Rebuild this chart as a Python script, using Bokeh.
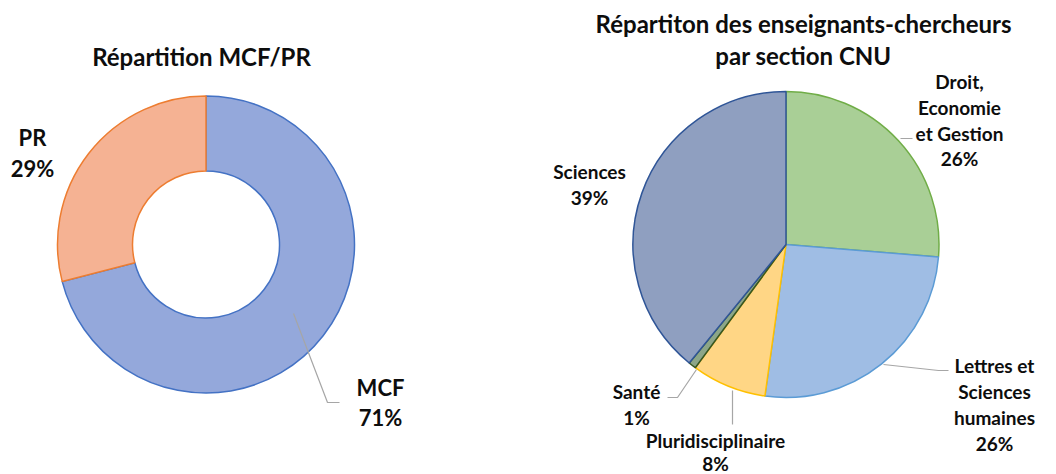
import math
from bokeh.plotting import figure
from bokeh.models import Range1d, ColumnDataSource
from bokeh.core.properties import value
from bokeh.embed import file_html
from bokeh.resources import INLINE

# ---------------- data ----------------
statut = ["MCF", "PR"]
statut_pct = [71, 29]

sections = ["Droit,\nEconomie\net Gestion", "Lettres et\nSciences\nhumaines",
            "Pluridisciplinaire", "Santé", "Sciences"]
section_pct = [26.3, 25.9, 7.9, 0.8, 39.1]

title_left = "Répartition MCF/PR"
title_right = ["Répartiton des enseignants-chercheurs", "par section CNU"]

# ---------------- styles ----------------
statut_fill = ["#94A8DB", "#F5B293"]
statut_line = ["#4472C4", "#ED7D31"]
section_fill = ["#A9CF96", "#9FBDE4", "#FFD685", "#8CA688", "#8F9FC0"]
section_line = ["#70AD47", "#5B9BD5", "#FFC000", "#375623", "#2F5597"]

FONT = value("Lato")
W, H = 1056, 474
PAGE_H = 474


def Y(py):
    return PAGE_H - py


p = figure(width=W, height=H, output_backend="svg", toolbar_location=None,
           x_range=Range1d(0, W), y_range=Range1d(PAGE_H - H, PAGE_H),
           x_axis_type=None, y_axis_type=None, min_border=0)
p.outline_line_color = None
p.grid.visible = False
p.background_fill_color = "white"
p.border_fill_color = "white"


def angles(vals):
    tot = float(sum(vals))
    starts, ends = [], []
    cum = 0.0
    for v in vals:
        starts.append(math.pi / 2 - 2 * math.pi * cum / tot)
        cum += v
        ends.append(math.pi / 2 - 2 * math.pi * cum / tot)
    return starts, ends

# ---------- donut ----------
s1, e1 = angles(statut_pct)
src1 = ColumnDataSource(dict(start=s1, end=e1, fill=statut_fill, line=statut_line))
p.annular_wedge(x=205.5, y=Y(244), inner_radius=73.5, outer_radius=148.5,
                start_angle="start", end_angle="end", direction="clock",
                fill_color="fill", line_color="line", line_width=1.5, source=src1)

# ---------- pie ----------
s2, e2 = angles(section_pct)
src2 = ColumnDataSource(dict(start=s2, end=e2, fill=section_fill, line=section_line))
p.wedge(x=785.5, y=Y(244), radius=153,
        start_angle="start", end_angle="end", direction="clock",
        fill_color="fill", line_color="line", line_width=1.5, source=src2)

# ---------- leader lines ----------
leaders = [
    [(293, 313), (327, 402), (339, 402)],   # MCF
    [(900, 138), (912, 138)],               # Droit
    [(883, 364), (938, 370), (948, 370)],   # Lettres
    [(732, 390), (732, 424)],               # Pluri
    [(696, 369), (677, 397), (667, 397)],   # Santé
]
p.multi_line(xs=[[pt[0] for pt in l] for l in leaders],
             ys=[[Y(pt[1]) for pt in l] for l in leaders],
             line_color="#A6A6A6", line_width=1.2)

# ---------- labels ----------
LABEL_SIZE = "19px"


def draw_lines(lines, x, ys, size=LABEL_SIZE):
    p.text(x=[x] * len(lines), y=[Y(v) for v in ys], text=lines,
           text_font=FONT, text_font_style="bold", text_font_size=size,
           text_align="center", text_baseline="middle", text_color="#0D0D0D")

statut_pos = [(380, [387, 417]), (32, [137, 168])]
for name, pct, (x, ys) in zip(statut, statut_pct, statut_pos):
    draw_lines([name, f"{round(pct)}%"], x, ys, size="22px")

section_pos = [
    (959, [81, 107, 133, 158]),
    (994, [365, 391, 417, 443]),
    (715, [440, 463]),
    (636, [391, 417]),
    (589, [171, 197]),
]
for name, pct, (x, ys) in zip(sections, section_pct, section_pos):
    draw_lines(name.split("\n") + [f"{round(pct)}%"], x, ys)

# ---------- titles ----------
draw_lines([title_left], 201, [56], size="24px")
draw_lines(title_right, 803, [23, 55], size="24px")

open("out.html", "w").write(file_html(p, INLINE))
